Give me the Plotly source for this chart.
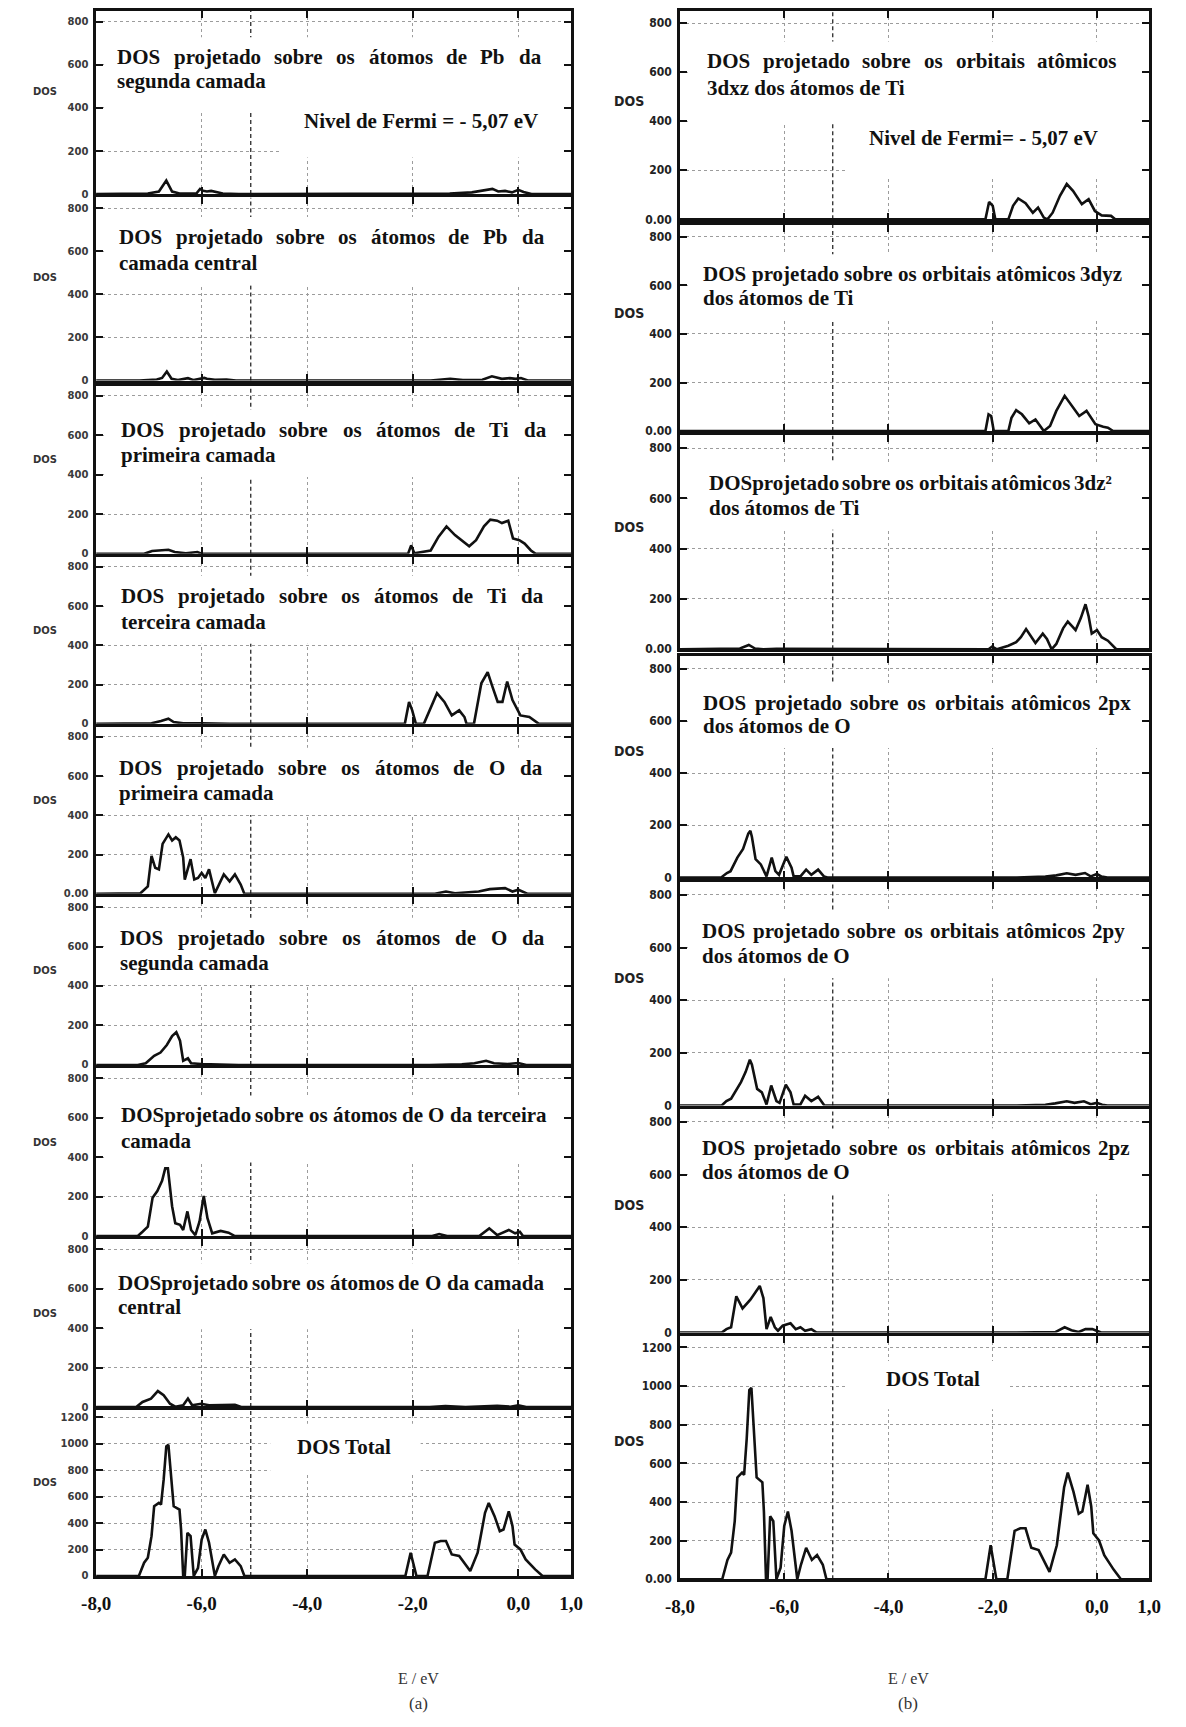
import plotly.graph_objects as go

FIG_W, FIG_H = 1186, 1727

# ---------------- data (E in eV, DOS in states) ----------------
E_TOTAL = [-8.0, -7.19, -7.09, -7.02, -6.95, -6.90, -6.81, -6.77, -6.72, -6.67, -6.63, -6.60, -6.53, -6.42,
           -6.39, -6.35, -6.32, -6.27, -6.21, -6.15, -6.07, -6.00, -5.93, -5.86, -5.75, -5.68, -5.58, -5.47,
           -5.37, -5.26, -5.19, -2.14, -2.04, -1.93, -1.72, -1.58, -1.47, -1.37, -1.26, -1.12, -1.02, -0.91,
           -0.77, -0.63, -0.56, -0.45, -0.35, -0.28, -0.18, -0.11, -0.07, 0.04, 0.14, 0.32, 0.46, 1.0]
DOS_TOTAL = [0, 0, 100, 138, 301, 527, 552, 540, 728, 979, 991, 853, 527, 502,
             351, 0, 0, 326, 301, 0, 60, 276, 351, 251, 0, 75, 163, 100,
             125, 75, 0, 0, 176, 0, 0, 251, 264, 264, 163, 151, 100, 38,
             176, 477, 552, 452, 339, 351, 489, 377, 238, 201, 125, 50, 0, 0]

E_PB_SEG = [-8.0, -7.10, -7.02, -6.81, -6.67, -6.56, -6.42, -6.10, -6.03, -5.97, -5.90, -5.82, -5.72, -5.60,
            -5.30, -1.45, -1.30, -0.88, -0.49, -0.38, -0.25, -0.12, 0.00, 0.10, 0.25, 1.0]
DOS_PB_SEG = [0, 0, 3, 12, 63, 12, 3, 3, 24, 15, 12, 15, 10, 3, 0, 0, 3, 8, 24, 12, 15, 8, 20, 10, 0, 0]

E_PB_CEN = [-8.0, -7.18, -6.85, -6.75, -6.66, -6.57, -6.45, -6.26, -6.15, -5.95, -5.90, -5.75, -5.53, -5.35,
            -1.66, -1.29, -1.05, -0.68, -0.50, -0.31, -0.16, -0.05, 0.05, 0.18, 1.0]
DOS_PB_CEN = [0, 0, 5, 12, 42, 8, 2, 11, 2, 12, 8, 3, 5, 0, 0, 8, 2, 4, 20, 8, 11, 8, 12, 0, 0]

E_TI_PRI = [-8.0, -7.09, -6.94, -6.82, -6.63, -6.51, -6.30, -6.08, -5.99, -2.09, -2.03, -1.97, -1.85, -1.66,
            -1.51, -1.36, -1.20, -1.05, -0.93, -0.80, -0.65, -0.53, -0.40, -0.31, -0.19, -0.10, 0.02, 0.12,
            0.24, 0.33, 1.0]
DOS_TI_PRI = [0, 0, 14, 17, 21, 9, 3, 9, 0, 0, 43, 3, 9, 17,
              87, 139, 95, 61, 38, 69, 139, 173, 168, 156, 168, 78, 69, 52, 17, 0, 0]

E_TI_TER = [-8.0, -7.16, -6.95, -6.77, -6.63, -6.53, -6.35, -6.00, -5.47, -2.15, -2.07, -2.01, -1.94, -1.79,
            -1.68, -1.54, -1.40, -1.26, -1.12, -1.02, -0.98, -0.84, -0.70, -0.58, -0.49, -0.39, -0.30, -0.21,
            -0.11, 0.04, 0.21, 0.39, 1.0]
DOS_TI_TER = [0, 0, 3, 14, 26, 9, 3, 3, 0, 0, 112, 69, 0, 0,
              69, 156, 112, 43, 69, 35, 0, 0, 207, 263, 190, 112, 112, 216, 121, 43, 35, 0, 0]

E_O_PRI = [-8.0, -7.16, -7.02, -6.95, -6.88, -6.81, -6.74, -6.63, -6.56, -6.49, -6.42, -6.35, -6.32, -6.21,
           -6.14, -6.07, -6.00, -5.93, -5.86, -5.75, -5.58, -5.47, -5.37, -5.26, -5.19, -1.58, -1.37, -1.20,
           -0.75, -0.54, -0.25, -0.11, 0.00, 0.18, 1.0]
DOS_O_PRI = [0, 3, 38, 194, 133, 125, 255, 303, 272, 289, 272, 185, 73, 177,
             73, 81, 107, 81, 125, 3, 99, 64, 99, 47, 0, 0, 12, 3, 12, 24, 29, 12, 21, 0, 0]

E_O_SEG = [-8.0, -7.21, -7.06, -6.90, -6.78, -6.66, -6.56, -6.48, -6.41, -6.35, -6.26, -6.20, -6.01, -5.70,
           -5.30, -1.69, -1.07, -0.83, -0.61, -0.46, -0.20, 0.00, 0.15, 1.0]
DOS_O_SEG = [0, 0, 9, 46, 63, 101, 146, 166, 123, 21, 34, 9, 5, 3, 0, 0, 3, 9, 21, 9, 5, 10, 0, 0]

E_O_TER = [-8.0, -7.21, -7.12, -7.02, -6.93, -6.84, -6.75, -6.69, -6.64, -6.56, -6.50, -6.41, -6.35, -6.27,
           -6.20, -6.12, -6.04, -5.96, -5.89, -5.80, -5.64, -5.49, -5.37, -1.63, -1.50, -1.35, -0.74, -0.55,
           -0.40, -0.18, -0.06, 0.03, 0.09, 1.0]
DOS_O_TER = [0, 0, 22, 48, 194, 228, 280, 343, 343, 151, 65, 57, 31, 125,
             31, 5, 74, 203, 91, 14, 26, 17, 0, 0, 10, 0, 0, 39, 5, 31, 14, 22, 0, 0]

E_O_CEN = [-8.0, -7.24, -7.12, -6.96, -6.83, -6.72, -6.60, -6.50, -6.35, -6.26, -6.18, -6.01, -5.86, -5.61,
           -5.37, -5.25, -1.68, -1.38, -1.00, -0.40, -0.15, 0.00, 0.15, 1.0]
DOS_O_CEN = [0, 0, 26, 43, 81, 60, 17, 2, 9, 43, 9, 17, 9, 12, 12, 0, 0, 5, 0, 7, 2, 9, 0, 0]

E_3DXZ = [-8.0, -7.00, -6.95, -6.57, -6.50, -2.14, -2.07, -2.00, -1.95, -1.70, -1.61, -1.51, -1.37, -1.23,
          -1.13, -1.02, -0.95, -0.85, -0.71, -0.58, -0.46, -0.29, -0.16, -0.04, 0.09, 0.27, 0.35, 1.0]
DOS_3DXZ = [0, 0, 3, 3, 0, 0, 71, 55, 0, 0, 55, 85, 66, 27, 48, 7, 0, 27, 96, 144, 116, 62, 82, 34, 16, 14, 0, 0]

E_3DYZ = [-8.0, -7.00, -6.93, -6.56, -6.50, -2.14, -2.08, -2.03, -1.98, -1.70, -1.64, -1.55, -1.44, -1.30,
          -1.18, -1.09, -1.02, -0.90, -0.78, -0.62, -0.50, -0.34, -0.20, -0.03, 0.12, 0.21, 0.31, 1.0]
DOS_3DYZ = [0, 0, 3, 3, 0, 0, 69, 62, 0, 0, 55, 86, 69, 32, 48, 21, 0, 21, 83, 145, 110, 62, 83, 28, 18, 14, 0, 0]

E_3DZ2 = [-8.0, -7.02, -6.85, -6.68, -6.56, -6.40, -6.15, -2.08, -2.01, -1.92, -1.70, -1.55, -1.46, -1.36,
          -1.30, -1.18, -1.04, -0.96, -0.87, -0.78, -0.65, -0.56, -0.47, -0.41, -0.31, -0.22, -0.16, -0.10,
          0.00, 0.09, 0.21, 0.37, 1.0]
DOS_3DZ2 = [0, 0, 3, 17, 3, 0, 2, 0, 11, 0, 14, 28, 48, 80,
            62, 25, 62, 41, 0, 21, 83, 110, 90, 76, 124, 179, 131, 62, 76, 48, 34, 0, 0]

E_2PX = [-8.0, -7.21, -7.10, -7.03, -6.90, -6.79, -6.69, -6.65, -6.62, -6.55, -6.45, -6.34, -6.24, -6.17,
         -6.10, -5.96, -5.86, -5.82, -5.69, -5.58, -5.48, -5.35, -5.24, -5.17, -1.54, -0.99, -0.78, -0.58,
         -0.41, -0.23, -0.12, 0.00, 0.09, 0.20, 1.0]
DOS_2PX = [0, 0, 17, 24, 76, 109, 168, 179, 155, 70, 50, 4, 76, 24,
           10, 79, 37, 4, 4, 30, 10, 30, 4, 0, 0, 3, 8, 16, 10, 17, 4, 13, 3, 0, 0]

E_2PY = [-8.0, -7.20, -7.11, -7.02, -6.83, -6.74, -6.66, -6.62, -6.52, -6.43, -6.34, -6.25, -6.15, -6.09,
         -5.97, -5.88, -5.82, -5.69, -5.60, -5.48, -5.35, -5.23, -1.54, -0.99, -0.80, -0.58, -0.43, -0.25,
         -0.12, 0.00, 0.10, 0.20, 1.0]
DOS_2PY = [0, 0, 17, 26, 89, 128, 174, 155, 63, 50, 4, 76, 17, 10,
           79, 50, 4, 4, 37, 17, 33, 0, 0, 3, 8, 16, 10, 16, 5, 10, 3, 0, 0]

E_2PZ = [-8.0, -7.20, -7.11, -7.02, -6.92, -6.80, -6.65, -6.47, -6.40, -6.34, -6.26, -6.18, -6.12, -6.03,
         -5.88, -5.78, -5.69, -5.60, -5.48, -5.38, -1.66, -1.05, -0.80, -0.62, -0.49, -0.35, -0.22, -0.09,
         0.00, 0.08, 1.0]
DOS_2PZ = [0, 0, 13, 20, 138, 92, 125, 177, 131, 13, 59, 20, 7, 26,
           35, 13, 20, 7, 13, 0, 0, 3, 2, 20, 9, 2, 13, 13, 7, 0, 0]

X_TICK_VALS = [-8, -6, -4, -2, 0, 1]
X_TICK_TEXT = ["-8,0", "-6,0", "-4,0", "-2,0", "0,0", "1,0"]
X_GRID_VALS = [-6, -4, -2, 0]
Y_TICKS = [0, 200, 400, 600, 800]
Y_TICKS_TOTAL = [0, 200, 400, 600, 800, 1000, 1200]
FERMI_LEVEL = -5.07

# ---------------- layout helpers ----------------
COLS = {"L": (83.0, 569.0), "R": (680.5, 1160.5)}
FS = 21  # panel text size

PANELS = [
    dict(col="L", top=11.0, bot=194.9, E=E_PB_SEG, D=DOS_PB_SEG, zero="0",
         l1="DOS projetado sobre os átomos de Pb da", l2="segunda camada", ly=(57.3, 81.5), span=(-7.6, 0.42),
         fermi=(-4.07, 121.1, "Nivel de Fermi = - 5,07 eV")),
    dict(col="L", top=198.2, bot=382.1, E=E_PB_CEN, D=DOS_PB_CEN, zero="0",
         l1="DOS projetado sobre os átomos de Pb da", l2="camada central", ly=(237.9, 264.3), span=(-7.56, 0.48)),
    dict(col="L", top=387.6, bot=556.1, E=E_TI_PRI, D=DOS_TI_PRI, zero="0",
         l1="DOS projetado sobre os átomos de Ti da", l2="primeira camada", ly=(431.7, 457.0), span=(-7.52, 0.52)),
    dict(col="L", top=559.4, bot=726.8, E=E_TI_TER, D=DOS_TI_TER, zero="0",
         l1="DOS projetado sobre os átomos de Ti da", l2="terceira camada", ly=(598.0, 624.4), span=(-7.52, 0.46)),
    dict(col="L", top=730.1, bot=897.5, E=E_O_PRI, D=DOS_O_PRI, zero="0.00",
         l1="DOS projetado sobre os átomos de O da", l2="primeira camada", ly=(770.8, 796.2), span=(-7.56, 0.44)),
    dict(col="L", top=900.8, bot=1069.3, E=E_O_SEG, D=DOS_O_SEG, zero="0",
         l1="DOS projetado sobre os átomos de O da", l2="segunda camada", ly=(941.5, 966.9), span=(-7.55, 0.49)),
    dict(col="L", top=1072.6, bot=1241.1, E=E_O_TER, D=DOS_O_TER, zero="0",
         l1="DOSprojetado sobre os átomos de O da terceira", l2="camada", ly=(1119.9, 1145.2), span=(-7.52, 0.52)),
    dict(col="L", top=1244.4, bot=1412.8, E=E_O_CEN, D=DOS_O_CEN, zero="0",
         l1="DOSprojetado sobre os átomos de O da camada", l2="central", ly=(1288.4, 1312.6), span=(-7.58, 0.46)),
    dict(col="L", top=1415.0, bot=1582.4, E=E_TOTAL, D=DOS_TOTAL, zero="0", total=True,
         tot=(-3.3, 1452.5), box=(-4.7, -1.85, 770, 1150)),
    dict(col="R", top=11.0, bot=220.2, E=E_3DXZ, D=DOS_3DXZ, zero="0.00",
         l1="DOS projetado sobre os orbitais atômicos", l2="3dxz dos átomos de Ti", ly=(61.7, 88.1), span=(-7.48, 0.34),
         fermi=(-4.37, 138.8, "Nivel de Fermi= - 5,07 eV")),
    dict(col="R", top=225.7, bot=432.8, E=E_3DYZ, D=DOS_3DYZ, zero="0.00",
         l1="DOS projetado sobre os orbitais atômicos 3dyz", l2="dos átomos de Ti", ly=(275.3, 299.5), span=(-7.55, 0.46)),
    dict(col="R", top=437.2, bot=651.9, E=E_3DZ2, D=DOS_3DZ2, zero="0.00",
         l1="DOSprojetado sobre os orbitais atômicos 3dz²", l2="dos átomos de Ti", ly=(484.5, 509.9), span=(-7.44, 0.27)),
    dict(col="R", top=658.5, bot=881.0, E=E_2PX, D=DOS_2PX, zero="0",
         l1="DOS projetado sobre os orbitais atômicos 2px", l2="dos átomos de O", ly=(705.9, 729.0), span=(-7.56, 0.64)),
    dict(col="R", top=885.4, bot=1110.0, E=E_2PY, D=DOS_2PY, zero="0",
         l1="DOS projetado sobre os orbitais atômicos 2py", l2="dos átomos de O", ly=(934.9, 960.3), span=(-7.57, 0.52)),
    dict(col="R", top=1113.3, bot=1338.0, E=E_2PZ, D=DOS_2PZ, zero="0",
         l1="DOS projetado sobre os orbitais atômicos 2pz", l2="dos átomos de O", ly=(1153.0, 1177.2), span=(-7.57, 0.62)),
    dict(col="R", top=1341.3, bot=1585.7, E=E_TOTAL, D=DOS_TOTAL, zero="0.00", total=True,
         tot=(-3.15, 1384.2), box=(-4.8, -1.7, 880, 1130)),
]

TNR_BOLD = {" ": 250, "a": 500, "b": 556, "c": 444, "d": 556, "e": 444, "f": 333, "g": 500, "h": 556, "i": 278,
            "j": 333, "k": 556, "l": 278, "m": 833, "n": 556, "o": 500, "p": 556, "q": 556, "r": 444, "s": 389,
            "t": 333, "u": 556, "v": 500, "w": 722, "x": 500, "y": 500, "z": 444, "A": 722, "D": 722, "F": 611,
            "N": 722, "O": 778, "P": 611, "S": 556, "T": 667, "V": 722, "á": 500, "ô": 500, "²": 300,
            "=": 570, "-": 333, ",": 250}


def text_w(s, size):
    return sum(TNR_BOLD.get(ch, 500) for ch in s) * size / 1000.0


def ypaper(px):
    return 1 - px / FIG_H


fig = go.Figure()
annotations = []
shapes_fermi = []
shapes_box = []
TEXT_FONT = dict(family="Liberation Serif, Times New Roman, serif", size=FS, color="#111")


def word_ann(xref, x, ypx, txt, anchor="left"):
    return dict(x=x, y=ypaper(ypx), xref=xref, yref="paper", text="<b>" + txt + "</b>", showarrow=False,
                xanchor=anchor, yanchor="middle", font=TEXT_FONT, borderpad=0, borderwidth=0)


n_bottom = {"L": 9, "R": 16}
for i, p in enumerate(PANELS, start=1):
    x0, x1 = COLS[p["col"]]
    ppe = (x1 - x0) / 9.0
    is_total = p.get("total", False)
    is_bottom = (i == n_bottom[p["col"]])
    ymax = 1260 if is_total else 850
    h = p["bot"] - p["top"]

    def px2dos(px, _p=p, _h=h, _m=ymax):
        return (_p["bot"] - px) / _h * _m

    yt = Y_TICKS_TOTAL if is_total else Y_TICKS
    ytext = [p["zero"]] + [str(v) for v in yt[1:]]
    sfx = "" if i == 1 else str(i)
    xa = "x" + sfx
    ya = "y" + sfx
    fig.add_trace(go.Scatter(x=p["E"], y=p["D"], mode="lines", line=dict(color="#111", width=2.6),
                             xaxis=xa, yaxis=ya, showlegend=False, hoverinfo="skip"))
    if p["col"] == "L":
        ytf = dict(family="DejaVu Sans, Arial, sans-serif", size=10, color="#3a3a3a", weight="bold")
    else:
        ytf = dict(family="Liberation Sans Narrow, DejaVu Sans Condensed, Arial Narrow, sans-serif", size=12,
                   color="#222", weight="bold")
    common = dict(showline=True, linecolor="#111", linewidth=2.5, mirror="ticks", ticks="inside", ticklen=7,
                  tickwidth=2, tickcolor="#111", showgrid=True, gridcolor="#9c9c9c", griddash="dot",
                  gridwidth=1, zeroline=False, fixedrange=True)
    fig.layout["xaxis" + sfx] = dict(
        domain=[x0 / FIG_W, x1 / FIG_W], range=[-8, 1], anchor=ya,
        tickvals=X_TICK_VALS if is_bottom else X_GRID_VALS,
        ticktext=X_TICK_TEXT if is_bottom else None,
        showticklabels=is_bottom, ticklabelstandoff=8,
        tickfont=dict(family="Liberation Serif, Times New Roman, serif", size=19, color="#111", weight="bold"),
        **common)
    fig.layout["yaxis" + sfx] = dict(
        domain=[ypaper(p["bot"]), ypaper(p["top"])], range=[0, ymax], anchor=xa,
        tickvals=yt, ticktext=ytext, tickfont=ytf, ticklabelstandoff=3, **common)

    # Fermi level dashed line
    shapes_fermi.append(dict(type="line", xref=xa, yref=ya, x0=FERMI_LEVEL, x1=FERMI_LEVEL,
                             y0=0, y1=ymax, line=dict(color="#3a3a3a", width=1.4, dash="4px,3px"),
                             layer="between"))

    # DOS label
    if p["col"] == "L":
        annotations.append(dict(x=31 / FIG_W, y=ypaper(p["bot"] - 0.56 * h), xref="paper", yref="paper",
                                text="<b>DOS</b>", showarrow=False, xanchor="center", yanchor="middle",
                                font=dict(family="DejaVu Sans, Arial, sans-serif", size=10, color="#333")))
    else:
        annotations.append(dict(x=628 / FIG_W, y=ypaper(p["bot"] - 0.57 * h), xref="paper", yref="paper",
                                text="<b>DOS</b>", showarrow=False, xanchor="center", yanchor="middle",
                                font=dict(family="Liberation Sans Narrow, DejaVu Sans Condensed, sans-serif",
                                          size=14, color="#222")))

    if is_total:
        ex, ypx = p["tot"]
        annotations.append(word_ann(xa, ex, ypx, "DOS Total", anchor="center"))
        bx0, bx1, by0, by1 = p["box"]
        shapes_box.append(dict(type="rect", xref=xa, yref=ya, x0=bx0, x1=bx1, y0=by0, y1=by1,
                               fillcolor="white", line=dict(width=0), layer="between"))
        continue

    e0, e1 = p["span"]
    y1px, y2px = p["ly"]
    words = p["l1"].split(" ")
    widths = [text_w(w, FS) for w in words]
    gap = ((e1 - e0) * ppe - sum(widths)) / (len(words) - 1)
    pos = 0.0
    for w, wd in zip(words, widths):
        annotations.append(word_ann(xa, e0 + pos / ppe, y1px, w))
        pos += wd + gap
    annotations.append(word_ann(xa, e0, y2px, p["l2"]))

    box_bottom_dos = px2dos(y2px + 22)
    if "fermi" in p:
        box_bottom_dos = 390
    shapes_box.append(dict(type="rect", xref=xa, yref=ya, x0=-7.85, x1=0.9,
                           y0=box_bottom_dos, y1=px2dos(y1px - 20),
                           fillcolor="white", line=dict(width=0), layer="between"))
    if "fermi" in p:
        fx, fy, ftxt = p["fermi"]
        annotations.append(word_ann(xa, fx, fy, ftxt))
        shapes_box.append(dict(type="rect", xref=xa, yref=ya, x0=fx - 0.45, x1=0.9, y0=170, y1=430,
                               fillcolor="white", line=dict(width=0), layer="between"))

# axis captions
for xpx, lab in [(413, "(a)"), (914, "(b)")]:
    annotations.append(dict(x=xpx / FIG_W, y=ypaper(1685), xref="paper", yref="paper", text="E / eV",
                            showarrow=False, xanchor="center", yanchor="middle",
                            font=dict(family="Liberation Serif, serif", size=16, color="#333")))
    annotations.append(dict(x=xpx / FIG_W, y=ypaper(1710), xref="paper", yref="paper", text=lab,
                            showarrow=False, xanchor="center", yanchor="middle",
                            font=dict(family="Liberation Serif, serif", size=17, color="#333")))

fig.update_layout(width=FIG_W, height=FIG_H, margin=dict(l=0, r=0, t=0, b=0),
                  paper_bgcolor="white", plot_bgcolor="white", showlegend=False,
                  annotations=annotations, shapes=shapes_fermi + shapes_box)
fig.write_html("out.html", config={"displayModeBar": False},
               post_script="document.body.style.margin='0';document.body.style.overflow='hidden';")
